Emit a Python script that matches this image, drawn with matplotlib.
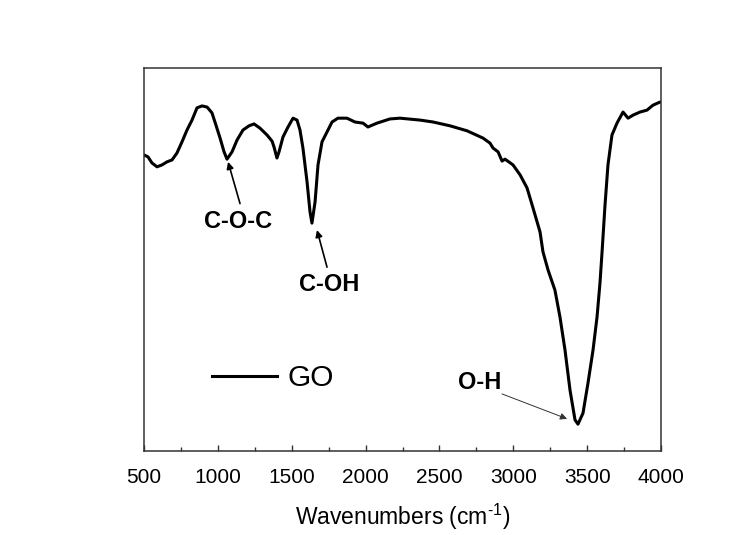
import matplotlib
matplotlib.use("Agg")
import matplotlib.pyplot as plt
from matplotlib.ticker import MultipleLocator

plt.rcParams["font.family"] = ["Liberation Sans", "DejaVu Sans"]
plt.rcParams["mathtext.fontset"] = "custom"
plt.rcParams["mathtext.rm"] = "Liberation Sans"
plt.rcParams["mathtext.it"] = "Liberation Sans:italic"
plt.rcParams["mathtext.bf"] = "Liberation Sans:bold"

# FTIR spectrum of graphene oxide (transmittance, arbitrary units)
wavenumber = [500, 527, 554, 588, 622, 656, 690, 723, 757, 791, 825, 859, 893,
              927, 960, 987, 1015, 1042, 1062, 1096, 1130, 1170, 1211, 1245,
              1285, 1333, 1367, 1380, 1400, 1414, 1441, 1475, 1509, 1536, 1556,
              1576, 1604, 1624, 1637, 1658, 1678, 1705, 1739, 1773, 1813, 1874,
              1928, 1983, 2016, 2077, 2165, 2233, 2369, 2457, 2572, 2687, 2795,
              2842, 2863, 2897, 2924, 2944, 2998, 3046, 3093, 3134, 3181, 3201,
              3235, 3282, 3316, 3350, 3384, 3418, 3438, 3472, 3506, 3540, 3567,
              3587, 3601, 3621, 3641, 3668, 3702, 3743, 3777, 3811, 3858, 3905,
              3946, 3993, 4000]
transmittance = [77.3, 76.8, 75.2, 74.2, 74.7, 75.5, 76.0, 77.8, 80.7, 83.8,
                 86.4, 89.6, 90.1, 89.8, 88.3, 85.1, 81.7, 78.1, 76.2, 78.1,
                 81.2, 83.8, 84.9, 85.4, 84.3, 82.5, 80.9, 79.4, 76.5, 78.1,
                 82.0, 84.6, 86.9, 86.4, 83.8, 79.1, 70.2, 62.4, 59.5, 65.0,
                 74.7, 80.7, 83.3, 85.9, 86.9, 86.9, 85.9, 85.6, 84.6, 85.6,
                 86.7, 86.9, 86.4, 85.9, 84.9, 83.6, 81.7, 80.4, 79.1, 78.1,
                 75.7, 76.2, 74.7, 72.1, 68.7, 63.4, 57.2, 52.0, 47.3, 42.0,
                 35.0, 26.4, 15.9, 8.1, 7.0, 9.9, 17.8, 26.4, 35.0, 43.9,
                 52.0, 64.2, 74.7, 82.5, 85.6, 88.5, 86.9, 87.7, 88.5, 89.0,
                 90.3, 91.1, 91.1]

x_ticks = [500, 1000, 1500, 2000, 2500, 3000, 3500, 4000]

# Band assignments: label, label centre, arrow start, arrow tip (data units)
band_labels = ["C-O-C", "C-OH", "O-H"]
label_pos = [(1136, 59.8), (1752, 43.6), (2775, 18.0)]
arrow_start = [(1150, 64.6), (1739, 48.0), (2924, 14.9)]
arrow_tip = [(1069, 75.5), (1671, 57.7), (3364, 8.4)]

fig = plt.figure(figsize=(7.55, 5.35), dpi=100)
ax = fig.add_axes([144 / 755, 1 - 451 / 535, 517 / 755, 383 / 535])

ax.plot(wavenumber, transmittance, color="black", lw=2.2, label="GO",
        solid_joinstyle="round")

ax.set_xlim(500, 4000)
ax.set_ylim(0, 100)
ax.set_xticks(x_ticks)
ax.xaxis.set_minor_locator(MultipleLocator(250))
ax.set_yticks([])
ax.tick_params(axis="x", which="both", direction="in", top=False,
               labelsize=15, pad=12, color="#333333", width=1.0)
ax.tick_params(axis="x", which="major", length=4)
ax.tick_params(axis="x", which="minor", length=3)
for sp in ax.spines.values():
    sp.set_color("#333333")
    sp.set_linewidth(1.1)

ax.set_xlabel(r"Wavenumbers (cm$^{\text{-1}}$)", fontsize=16.5, labelpad=11)

# Band annotations
for i, name in enumerate(band_labels):
    ax.text(*label_pos[i], name, fontsize=17, fontweight="bold",
            ha="center", va="center")
    thin = name == "O-H"
    ax.annotate("", xy=arrow_tip[i], xytext=arrow_start[i],
                arrowprops=dict(arrowstyle="-|>",
                                color="#333333" if thin else "black",
                                lw=0.7 if thin else 1.2,
                                mutation_scale=10, shrinkA=0, shrinkB=0))

ax.legend(loc="center left", bbox_to_anchor=(0.131, 0.19), frameon=False,
          fontsize=21.5, handlelength=2.2, handletextpad=0.35, borderpad=0,
          borderaxespad=0)

fig.savefig("out.png", dpi=100)
